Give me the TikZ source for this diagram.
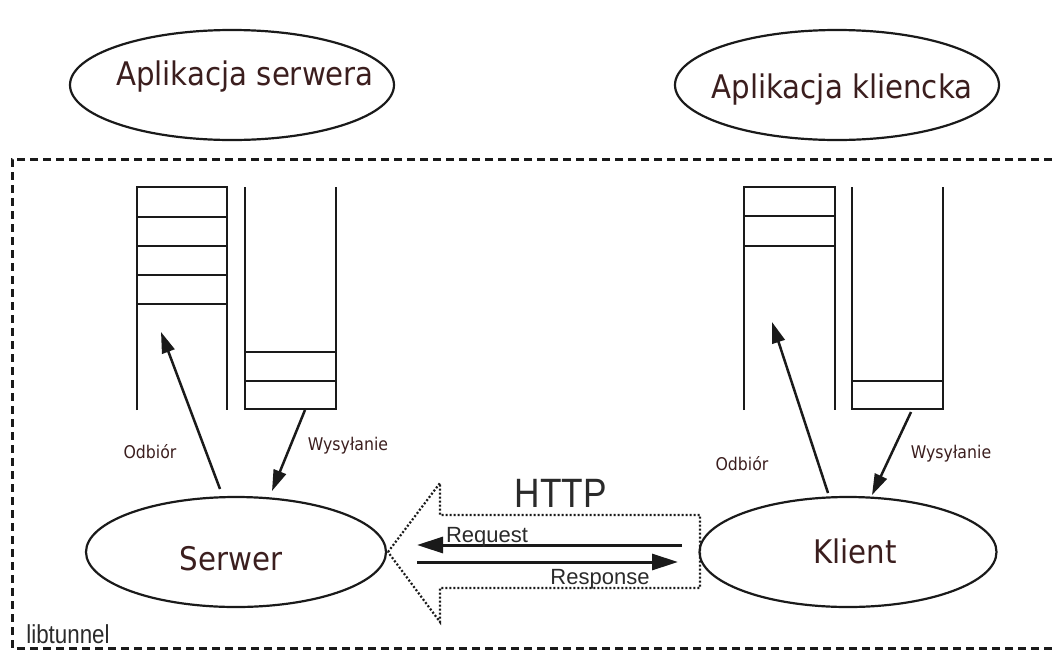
\documentclass[tikz,border=0pt]{standalone}
\usepackage{fontspec}
\usetikzlibrary{shapes.geometric,arrows.meta}
\newfontfamily\appfont[FakeStretch=0.9]{DejaVu Sans}
\newfontfamily\netfont{Liberation Sans}
\newfontfamily\narrowfont[FakeStretch=0.86]{Liberation Sans}
\definecolor{ink}{HTML}{1A1A1A}
\definecolor{txtbrown}{HTML}{3B1E1E}
\definecolor{txtgray}{HTML}{2A2A2A}
\begin{document}
\begin{tikzpicture}[x=1pt,y=-1pt,
  proc/.style={draw=ink, line width=2.2pt, ellipse, inner sep=0pt},
  bigtext/.style={text=txtbrown, anchor=base, inner sep=0pt,
    font=\appfont\fontsize{32.5}{36}\selectfont},
  smalltext/.style={text=txtbrown, anchor=base, inner sep=0pt,
    font=\appfont\fontsize{17.5}{20}\selectfont},
  nettext/.style={text=txtgray, anchor=base, inner sep=0pt,
    font=\netfont\fontsize{22}{26}\selectfont},
  buffer/.style={draw=ink, line width=2.5pt},
  flow/.style={draw=ink, line width=2.5pt, -{Triangle[length=21pt,width=13pt]}},
  msg/.style={draw=ink, line width=3pt, -{Triangle[length=26pt,width=16pt]}},
  frame/.style={draw=ink, line width=3pt, dash pattern=on 8pt off 5pt},
  tunnel/.style={draw=ink, line width=2.2pt, dash pattern=on 2pt off 2pt}]
\useasboundingbox (0,0) rectangle (1052,651);

% libtunnel frame (open on the right)
\draw[frame] (1052,159) -- (12,159) -- (12,648) -- (1052,648);
\node[text=txtgray, anchor=base, inner sep=0pt,
  font=\narrowfont\fontsize{26}{30}\selectfont] (lib) at (68,643) {libtunnel};

% applications
\node[proc, minimum width=324pt, minimum height=110pt] (appsrv) at (232,85) {};
\node[bigtext] (appsrvtxt) at (245,85) {Aplikacja serwera};
\node[proc, minimum width=324pt, minimum height=110pt] (appcli) at (837,85) {};
\node[bigtext] (appclitxt) at (842,98) {Aplikacja kliencka};

% endpoints
\node[proc, minimum width=300pt, minimum height=110pt] (srv) at (236,552) {};
\node[bigtext] (srvtxt) at (231,570) {Serwer};
\node[proc, minimum width=297pt, minimum height=110pt] (cli) at (848,552) {};
\node[bigtext] (clitxt) at (855,563) {Klient};

% server receive buffer
\draw[buffer] (137,410) -- (137,187) -- (227,187) -- (227,410);
\foreach \y in {217,246,275,304} \draw[buffer] (137,\y) -- (227,\y);
% server send buffer
\draw[buffer] (245,187) -- (245,409) -- (336,409) -- (336,187);
\foreach \y in {352,381} \draw[buffer] (245,\y) -- (336,\y);
% client receive buffer
\draw[buffer] (744,410) -- (744,187) -- (835,187) -- (835,410);
\foreach \y in {216,246} \draw[buffer] (744,\y) -- (835,\y);
% client send buffer
\draw[buffer] (852,187) -- (852,409) -- (943,409) -- (943,187);
\draw[buffer] (852,381) -- (943,381);

% buffer connections
\coordinate (srvin)   at (220,489);
\coordinate (srvrecv) at (161,332);
\coordinate (srvsend) at (305,410);
\coordinate (srvout)  at (272,491);
\coordinate (cliin)   at (828,493);
\coordinate (clirecv) at (772,322);
\coordinate (clisend) at (911,412);
\coordinate (cliout)  at (872,495);
\draw[flow] (srvin) -- (srvrecv);
\draw[flow] (srvsend) -- (srvout);
\draw[flow] (cliin) -- (clirecv);
\draw[flow] (clisend) -- (cliout);
\node[smalltext] (srvrlbl) at (150,458) {Odbiór};
\node[smalltext] (srvslbl) at (348,450) {Wysyłanie};
\node[smalltext] (clirlbl) at (742,470) {Odbiór};
\node[smalltext] (clislbl) at (951,458) {Wysyłanie};

% HTTP tunnel arrow
\draw[tunnel] (388,552) -- (440,483) -- (440,515) -- (700,515)
  -- (700,588) -- (440,588) -- (440,622) -- cycle;
\node[text=txtgray, anchor=base, inner sep=0pt,
  font=\narrowfont\fontsize{41}{46}\selectfont] (http) at (561,507) {HTTP};

% request / response
\coordinate (reqstart) at (682,545);
\coordinate (reqend)   at (417,545);
\coordinate (resstart) at (417,562);
\coordinate (resend)   at (678,562);
\draw[msg] (reqstart) -- (reqend);
\draw[msg] (resstart) -- (resend);
\node[nettext] (req) at (487,542) {Request};
\node[nettext] (res) at (600,584) {Response};
\end{tikzpicture}
\end{document}
